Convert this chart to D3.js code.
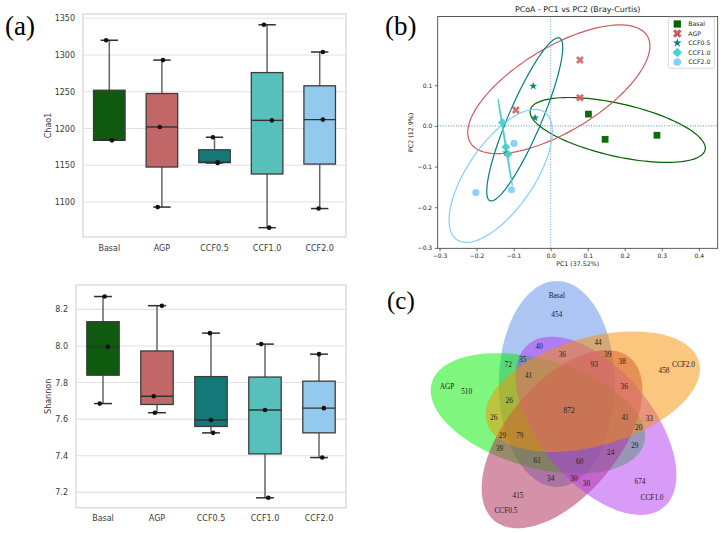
<!DOCTYPE html>
<html>
<head>
<meta charset="utf-8" />
<script src="https://d3js.org/d3.v7.min.js"></script>
<style>
  body { margin: 0; background: #fff; }
  svg { display: block; }
</style>
</head>
<body>
<svg id="chart" width="723" height="533"></svg>
<script>

var groups = ["Basal", "AGP", "CCF0.5", "CCF1.0", "CCF2.0"];

// (a) alpha diversity, three samples per group (sorted)
var chao1 = [
  [1184, 1184, 1320],
  [1093, 1202, 1293],
  [1153, 1154, 1188],
  [1065, 1211, 1341],
  [1091, 1212, 1304]
];
var shannon = [
  [7.685, 7.995, 8.27],
  [7.635, 7.725, 8.22],
  [7.525, 7.595, 8.07],
  [7.17, 7.65, 8.01],
  [7.39, 7.66, 7.955]
];
// strip-plot jitter, as a fraction of the band
var chao1Jitter = [[0.05, 0.05, -0.06], [-0.08, -0.04, 0.02], [0.06, 0.06, -0.03], [0.04, 0.09, -0.06], [-0.02, 0.06, 0.06]];
var shannonJitter = [[-0.06, 0.09, 0.03], [-0.04, -0.06, 0.09], [0.04, 0, -0.02], [0.06, 0, -0.07], [0.06, 0.09, 0]];
var chao1Ticks = [1100, 1150, 1200, 1250, 1300, 1350];
var shannonTicks = [7.2, 7.4, 7.6, 7.8, 8.0, 8.2];
var boxColors = ["#0e5a0f", "#c16767", "#137878", "#57c0ba", "#93c9ed"];

// (b) PCoA scores
var pc1 = [[0.102, 0.147, 0.287], [0.079, 0.079, -0.094], [-0.047, -0.042, -0.12], [-0.130, -0.121, -0.115], [-0.099, -0.106, -0.202]];
var pc2 = [[0.029, -0.033, -0.023], [0.162, 0.069, 0.039], [0.098, 0.020, -0.066], [0.008, -0.052, -0.070], [-0.043, -0.157, -0.164]];
// confidence ellipses: centre and two conjugate half axes, data units
var ellCenter = [[0.181, -0.010], [0.022, 0.090], [-0.070, 0.016], [-0.123, -0.040], [-0.135, -0.123]];
var ellAxis1 = [[0.236, -0.049], [0.239, 0.131], [0.094, 0.200], [0.019, -0.104], [0.118, 0.157]];
var ellAxis2 = [[-0.016, -0.063], [0.058, -0.089], [0.041, -0.016], [0.001, 0.0], [0.074, -0.046]];
var pc1Ticks = [-0.3, -0.2, -0.1, 0.0, 0.1, 0.2, 0.3, 0.4];
var pc2Ticks = [-0.3, -0.2, -0.1, 0.0, 0.1];
var pcoaColors = ["#006400", "#cd5c5c", "#008080", "#48d1cc", "#87cefa"];
var pcoaSymbols = [d3.symbolSquare, d3.symbolCross, d3.symbolStar, d3.symbolSquare, d3.symbolCircle];

// (c) Venn counts
var vennCombos = [
  ["Basal"], ["AGP"], ["CCF0.5"], ["CCF1.0"], ["CCF2.0"],
  ["Basal", "CCF1.0"], ["Basal", "CCF2.0"], ["Basal", "AGP"], ["CCF0.5", "CCF2.0"], ["AGP", "CCF2.0"],
  ["CCF1.0", "CCF2.0"], ["AGP", "CCF0.5"], ["AGP", "CCF1.0"], ["Basal", "CCF0.5"], ["CCF0.5", "CCF1.0"],
  ["Basal", "CCF1.0", "CCF2.0"], ["Basal", "CCF0.5", "CCF2.0"], ["Basal", "AGP", "CCF1.0"], ["Basal", "AGP", "CCF2.0"],
  ["CCF0.5", "CCF1.0", "CCF2.0"], ["AGP", "CCF1.0", "CCF2.0"], ["AGP", "CCF0.5", "CCF2.0"], ["Basal", "AGP", "CCF0.5"],
  ["AGP", "CCF0.5", "CCF1.0"], ["Basal", "CCF0.5", "CCF1.0"],
  ["Basal", "CCF0.5", "CCF1.0", "CCF2.0"], ["Basal", "AGP", "CCF1.0", "CCF2.0"], ["AGP", "CCF0.5", "CCF1.0", "CCF2.0"],
  ["Basal", "AGP", "CCF0.5", "CCF2.0"], ["Basal", "AGP", "CCF0.5", "CCF1.0"],
  ["Basal", "AGP", "CCF0.5", "CCF1.0", "CCF2.0"]
];
var vennCounts = [
  454, 510, 415, 674, 458,
  40, 44, 72, 38, 26,
  33, 39, 29, 34, 30,
  36, 39, 35, 26,
  36, 20, 29, 61,
  24, 30,
  93, 41, 41,
  79, 60,
  872
];
var vennColors = ["#5a8ce6", "#00f000", "#ab2351", "#b337f1", "#f79000"];

var svg = d3.select("#chart");
var sans = "'DejaVu Sans', sans-serif";
var serif = "'Liberation Serif', serif";

// ---------------- (a) ----------------
function boxStats(s) {
  var q1 = d3.quantile(s, 0.25), med = d3.quantile(s, 0.5), q3 = d3.quantile(s, 0.75);
  var iqr = q3 - q1;
  return {
    q1: q1, med: med, q3: q3,
    lo: d3.min(s.filter(function(d) { return d >= q1 - 1.5 * iqr; })),
    hi: d3.max(s.filter(function(d) { return d <= q3 + 1.5 * iqr; }))
  };
}

function drawBoxPanel(values, jitter, ticks, fmt, title, f) {
  var x = d3.scaleBand().domain(groups).range([f.left, f.right]);
  var y = d3.scaleLinear().domain(f.domain).range([f.bottom, f.top]);
  var g = svg.append("g");
  var bw = x.bandwidth() * 0.6, cw = x.bandwidth() * 0.33;

  g.selectAll(".grid").data(ticks).enter().append("line")
    .attr("x1", f.left).attr("x2", f.right)
    .attr("y1", function(d) { return y(d); }).attr("y2", function(d) { return y(d); })
    .attr("stroke", "#e2e2e2").attr("stroke-width", 1.1);

  g.append("rect")
    .attr("x", f.left).attr("y", f.top)
    .attr("width", f.right - f.left).attr("height", f.bottom - f.top)
    .attr("fill", "none").attr("stroke", "#d8d8d8").attr("stroke-width", 1.3);

  var yAxis = g.append("g").attr("transform", "translate(" + f.left + ",0)")
    .call(d3.axisLeft(y).tickValues(ticks).tickFormat(fmt).tickSize(0).tickPadding(8));
  var xAxis = g.append("g").attr("transform", "translate(0," + f.bottom + ")")
    .call(d3.axisBottom(x).tickSize(0).tickPadding(8));
  [yAxis, xAxis].forEach(function(a) {
    a.select(".domain").remove();
    a.attr("font-family", sans).attr("font-size", 8);
    a.selectAll("text").attr("fill", "#3a3a3a");
  });

  g.append("text")
    .attr("transform", "translate(51," + (f.top + f.bottom) / 2 + ") rotate(-90)")
    .attr("text-anchor", "middle").attr("font-family", sans).attr("font-size", 8)
    .attr("fill", "#3a3a3a").text(title);

  var stats = values.map(boxStats);
  var item = g.selectAll(".item").data(groups).enter().append("g");

  item.append("line")
    .attr("x1", function(d) { return x(d) + x.bandwidth() / 2; })
    .attr("x2", function(d) { return x(d) + x.bandwidth() / 2; })
    .attr("y1", function(d, i) { return y(stats[i].hi); })
    .attr("y2", function(d, i) { return y(stats[i].lo); })
    .attr("stroke", "#666").attr("stroke-width", 1.5);

  item.append("rect")
    .attr("x", function(d) { return x(d) + (x.bandwidth() - bw) / 2; })
    .attr("y", function(d, i) { return y(stats[i].q3); })
    .attr("width", bw)
    .attr("height", function(d, i) { return y(stats[i].q1) - y(stats[i].q3); })
    .attr("fill", function(d, i) { return boxColors[i]; })
    .attr("stroke", "#3c3c3c").attr("stroke-width", 1.3);

  item.append("line")
    .attr("x1", function(d) { return x(d) + (x.bandwidth() - bw) / 2; })
    .attr("x2", function(d) { return x(d) + (x.bandwidth() + bw) / 2; })
    .attr("y1", function(d, i) { return y(stats[i].med); })
    .attr("y2", function(d, i) { return y(stats[i].med); })
    .attr("stroke", "#333").attr("stroke-width", 1.4);

  ["lo", "hi"].forEach(function(k) {
    item.append("line")
      .attr("x1", function(d) { return x(d) + (x.bandwidth() - cw) / 2; })
      .attr("x2", function(d) { return x(d) + (x.bandwidth() + cw) / 2; })
      .attr("y1", function(d, i) { return y(stats[i][k]); })
      .attr("y2", function(d, i) { return y(stats[i][k]); })
      .attr("stroke", "#2e2e2e").attr("stroke-width", 1.5);
  });

  item.each(function(d, i) {
    d3.select(this).selectAll("circle").data(values[i]).enter().append("circle")
      .attr("cx", function(v, k) { return x(d) + x.bandwidth() * (0.5 + jitter[i][k]); })
      .attr("cy", function(v) { return y(v); })
      .attr("r", 2.3).attr("fill", "#111");
  });
}

drawBoxPanel(chao1, chao1Jitter, chao1Ticks, d3.format("d"), "Chao1",
  {left: 83, right: 346, top: 14, bottom: 237, domain: [1052.3, 1355.7]});
drawBoxPanel(shannon, shannonJitter, shannonTicks, d3.format(".1f"), "Shannon",
  {left: 76, right: 346, top: 285, bottom: 507.7, domain: [7.116, 8.333]});

// ---------------- (b) ----------------
var bx = d3.scaleLinear().domain([-0.305, 0.451]).range([437.7, 717.7]);
var by = d3.scaleLinear().domain([-0.301, 0.269]).range([248.3, 16.5]);
var gb = svg.append("g");

gb.append("line").attr("x1", bx(0)).attr("x2", bx(0)).attr("y1", by.range()[0]).attr("y2", by.range()[1])
  .attr("stroke", "#5b9bd5").attr("stroke-width", 0.9).attr("stroke-dasharray", "1,1.6");
gb.append("line").attr("x1", bx.range()[0]).attr("x2", bx.range()[1]).attr("y1", by(0)).attr("y2", by(0))
  .attr("stroke", "#3f7fb0").attr("stroke-width", 0.9).attr("stroke-dasharray", "1,1.6");

var ellLine = d3.line()
  .x(function(p) { return bx(p[0]); })
  .y(function(p) { return by(p[1]); })
  .curve(d3.curveLinearClosed);
var angles = d3.range(0, 2 * Math.PI, Math.PI / 60);

groups.forEach(function(name, i) {
  var pts = angles.map(function(t) {
    return [ellCenter[i][0] + Math.cos(t) * ellAxis1[i][0] + Math.sin(t) * ellAxis2[i][0],
            ellCenter[i][1] + Math.cos(t) * ellAxis1[i][1] + Math.sin(t) * ellAxis2[i][1]];
  });
  gb.append("path").attr("d", ellLine(pts))
    .attr("fill", "none").attr("stroke", pcoaColors[i]).attr("stroke-width", 1.2);
});

function symbolPath(i, scale) {
  var sizes = [46, 40, 21, 40, 40];
  return d3.symbol().type(pcoaSymbols[i]).size(sizes[i] * scale)();
}
function symbolRot(i) { return (i === 1 || i === 3) ? " rotate(45)" : ""; }

groups.forEach(function(name, i) {
  gb.selectAll(".pt" + i).data(pc1[i]).enter().append("path")
    .attr("d", symbolPath(i, 1))
    .attr("transform", function(d, k) {
      return "translate(" + bx(d) + "," + by(pc2[i][k]) + ")" + symbolRot(i);
    })
    .attr("fill", pcoaColors[i]).attr("opacity", i === 1 ? 0.85 : 0.95);
});

gb.append("rect")
  .attr("x", bx.range()[0]).attr("y", by.range()[1])
  .attr("width", bx.range()[1] - bx.range()[0]).attr("height", by.range()[0] - by.range()[1])
  .attr("fill", "none").attr("stroke", "#333").attr("stroke-width", 0.8);

var bxAxis = gb.append("g").attr("transform", "translate(0," + by.range()[0] + ")")
  .call(d3.axisBottom(bx).tickValues(pc1Ticks).tickFormat(d3.format(".1f")).tickSize(3).tickPadding(2.5));
var byAxis = gb.append("g").attr("transform", "translate(" + bx.range()[0] + ",0)")
  .call(d3.axisLeft(by).tickValues(pc2Ticks).tickFormat(d3.format(".1f")).tickSize(3).tickPadding(2.5));
[bxAxis, byAxis].forEach(function(a) {
  a.select(".domain").remove();
  a.attr("font-family", sans).attr("font-size", 6);
  a.selectAll("line").attr("stroke", "#333").attr("stroke-width", 0.7);
  a.selectAll("text").attr("fill", "#222");
});

gb.append("text").attr("x", (bx.range()[0] + bx.range()[1]) / 2).attr("y", 11.5)
  .attr("text-anchor", "middle").attr("font-family", sans).attr("font-size", 7.9)
  .attr("fill", "#222").text("PCoA - PC1 vs PC2 (Bray-Curtis)");
gb.append("text").attr("x", (bx.range()[0] + bx.range()[1]) / 2).attr("y", 266)
  .attr("text-anchor", "middle").attr("font-family", sans).attr("font-size", 6.3)
  .attr("fill", "#222").text("PC1 (37.52%)");
gb.append("text").attr("transform", "translate(413," + (by.range()[0] + by.range()[1]) / 2 + ") rotate(-90)")
  .attr("text-anchor", "middle").attr("font-family", sans).attr("font-size", 6.3)
  .attr("fill", "#222").text("PC2 (12.9%)");

var legend = gb.append("g").attr("transform", "translate(668.3,17.3)");
legend.append("rect").attr("width", 46).attr("height", 51).attr("rx", 1.5)
  .attr("fill", "#fff").attr("fill-opacity", 0.85).attr("stroke", "#d0d0d0").attr("stroke-width", 0.8);
var li = legend.selectAll(".li").data(groups).enter().append("g")
  .attr("transform", function(d, i) { return "translate(0," + (6.7 + i * 9.5) + ")"; });
li.append("path")
  .attr("d", function(d, i) { return symbolPath(i, 1.15); })
  .attr("transform", function(d, i) { return "translate(9,0)" + symbolRot(i); })
  .attr("fill", function(d, i) { return pcoaColors[i]; });
li.append("text").attr("x", 20).attr("dy", "0.35em")
  .attr("font-family", sans).attr("font-size", 6.2).attr("fill", "#222")
  .text(function(d) { return d; });

// ---------------- (c) ----------------
var vx = d3.scaleLinear().domain([-0.5, 0.5]).range([448.35, 689.85]);
var vy = d3.scaleLinear().domain([-0.5, 0.5]).range([522.75, 298.85]);
var R1 = 0.46, R2 = 0.24, vdist = 0.13;
var ells = groups.map(function(name, j) {
  var phi = (113 + 72 * j) * Math.PI / 180, beta = (90 + 72 * j) * Math.PI / 180;
  return {cx: vdist * Math.cos(phi), cy: vdist * Math.sin(phi), ux: Math.cos(beta), uy: Math.sin(beta)};
});

var gc = svg.append("g");
var vennLine = d3.line()
  .x(function(p) { return vx(p[0]); })
  .y(function(p) { return vy(p[1]); })
  .curve(d3.curveLinearClosed);

ells.forEach(function(e, j) {
  var pts = angles.map(function(t) {
    var m = R1 * Math.cos(t), n = R2 * Math.sin(t);
    return [e.cx + m * e.ux - n * e.uy, e.cy + m * e.uy + n * e.ux];
  });
  gc.append("path").attr("d", vennLine(pts))
    .attr("fill", vennColors[j]).attr("fill-opacity", 0.5).attr("stroke", "none");
});

// label spot of each overlap: the grid point farthest from any outline
var best = {};
for (var u = -0.62; u <= 0.62; u += 0.004) {
  for (var v = -0.62; v <= 0.62; v += 0.004) {
    var mask = 0, dmin = Infinity;
    for (var j = 0; j < ells.length; j++) {
      var e = ells[j], dx = u - e.cx, dy = v - e.cy;
      var m = dx * e.ux + dy * e.uy, n = -dx * e.uy + dy * e.ux;
      var fv = Math.sqrt(m * m / (R1 * R1) + n * n / (R2 * R2));
      if (fv < 1) mask |= 1 << j;
      var gx = m / (R1 * R1), gy = n / (R2 * R2);
      var gl = Math.sqrt(gx * gx + gy * gy) / Math.max(fv, 1e-9);
      var dist = gl > 1e-9 ? Math.abs(fv - 1) / gl : R2;
      if (dist < dmin) dmin = dist;
    }
    if (mask && (!best[mask] || dmin > best[mask].d)) best[mask] = {u: u, v: v, d: dmin};
  }
}

function maskOf(c) {
  return d3.sum(c, function(name) { return 1 << groups.indexOf(name); });
}
// unique counts sit on the long axis, the rest at the region's deepest point
function spot(c) {
  if (c.length === 1) {
    var e = ells[groups.indexOf(c[0])];
    return {u: e.cx + 0.31 * e.ux, v: e.cy + 0.31 * e.uy};
  }
  return best[maskOf(c)];
}

gc.selectAll(".cnt").data(vennCombos).enter().append("text")
  .attr("x", function(c) { return vx(spot(c).u); })
  .attr("y", function(c) { return vy(spot(c).v); })
  .attr("dy", "0.35em").attr("text-anchor", "middle")
  .attr("font-family", serif).attr("font-size", 7.3).attr("fill", "#222")
  .text(function(c, i) { return vennCounts[i]; });

gc.selectAll(".cat").data(groups).enter().append("text")
  .attr("x", function(d, j) { return vx(ells[j].cx + 0.395 * ells[j].ux); })
  .attr("y", function(d, j) { return vy(ells[j].cy + 0.395 * ells[j].uy); })
  .attr("dy", "0.35em").attr("text-anchor", "middle")
  .attr("font-family", serif).attr("font-size", 7.3).attr("fill", "#222")
  .text(function(d) { return d; });

// panel letters
svg.append("text").attr("x", 5).attr("y", 35).attr("font-family", serif).attr("font-size", 27).text("(a)");
svg.append("text").attr("x", 385).attr("y", 35).attr("font-family", serif).attr("font-size", 27).text("(b)");
svg.append("text").attr("x", 387).attr("y", 309).attr("font-family", serif).attr("font-size", 25).text("(c)");

</script>
</body>
</html>
